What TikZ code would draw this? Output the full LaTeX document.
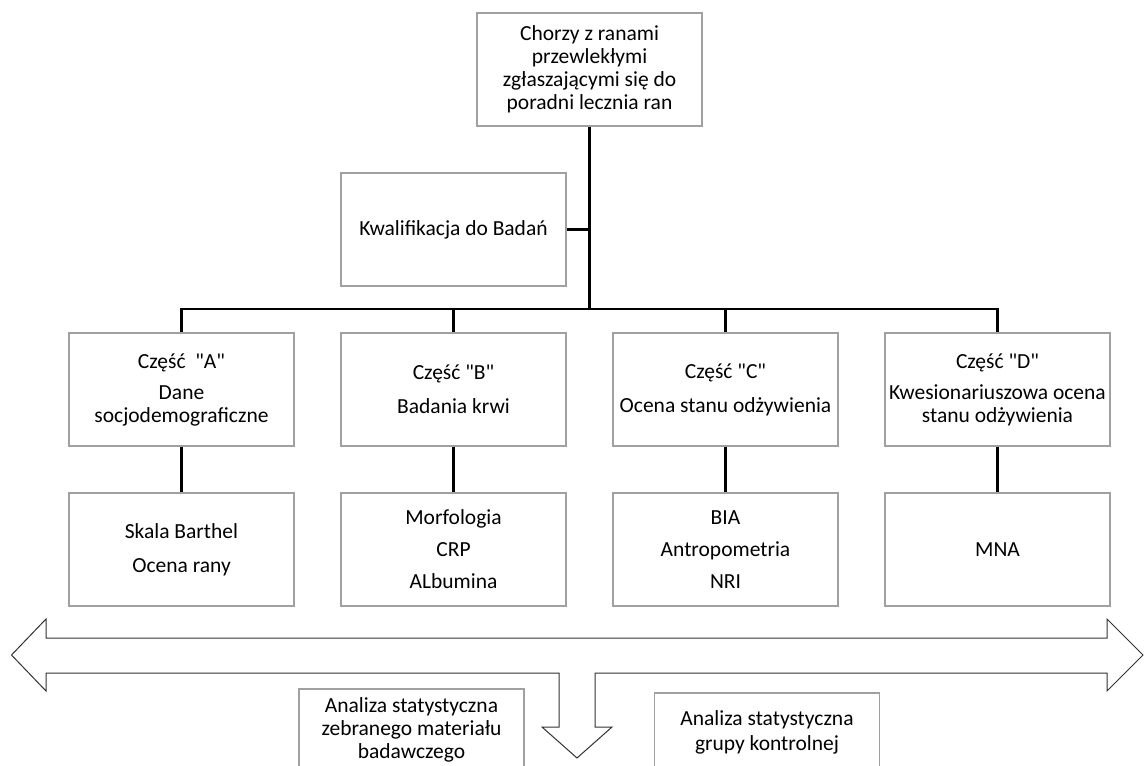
\documentclass[tikz,border=0pt]{standalone}
\usepackage{fontspec}
\setmainfont{Carlito}[Ligatures=TeXOff]
\definecolor{boxgray}{RGB}{160,160,160}
\definecolor{arrowgray}{RGB}{50,50,50}
\begin{document}
\begin{tikzpicture}[x=1pt,y=-1pt,
  box/.style={draw=boxgray, line width=1.2pt, minimum width=225pt, minimum height=113pt,
    inner sep=0pt, align=center, font=\fontsize{21.5}{23}\selectfont, text=black},
  conn/.style={line width=2.6pt, draw=black, line join=miter},
  bigarrow/.style={draw=arrowgray, line width=1pt, fill=white, line join=miter}]
\useasboundingbox (0,0) rectangle (1147,765);

% three-way arrow
\draw[bigarrow] (11.5,655) -- (46,619) -- (46,638) -- (1107,638) -- (1107,619)
  -- (1143,655) -- (1107,691) -- (1107,673) -- (595,673) -- (595,727) -- (612,727)
  -- (577,758) -- (542,727) -- (559,727) -- (559,673) -- (46,673) -- (46,691) -- cycle;

% boxes
\node[box] (top) at (589.5,69.5) {Chorzy z ranami\\przewlekłymi\\zgłaszającymi się do\\poradni lecznia ran};
\node[box] (kw) at (453.5,229.5) {Kwalifikacja do Badań};

\node[box] (a) at (181.5,389.5) {Część\ \ "A"\\[8pt]Dane\\socjodemograficzne};
\node[box] (b) at (453.5,389.5) {Część "B"\\[11pt]Badania krwi};
\node[box] (c) at (725.5,389.5) {Część "C"\\[11pt]Ocena stanu odżywienia};
\node[box] (d) at (997.5,389.5) {Część "D"\\[8pt]Kwesionariuszowa ocena\\stanu odżywienia};

\node[box] (a2) at (181.5,549.5) {Skala Barthel\\[11pt]Ocena rany};
\node[box] (b2) at (453.5,549.5) {Morfologia\\[9pt]CRP\\[9pt]ALbumina};
\node[box] (c2) at (725.5,549.5) {BIA\\[9pt]Antropometria\\[9pt]NRI};
\node[box] (d2) at (997.5,549.5) {MNA};

\node[box, minimum height=82pt] (an1) at (411.5,730) {Analiza statystyczna\\zebranego materiału\\badawczego};
\node[box, minimum height=79pt] (an2) at (767,732.5) {Analiza statystyczna\\[2pt]grupy kontrolnej};

% connectors
\coordinate (bus) at (589.5,309);
\draw[conn] (top.south) -- (bus);
\draw[conn] (kw.east) -- (kw.east -| bus);
\draw[conn] (a.north) |- (bus) -| (d.north);
\draw[conn] (b.north) -- (b.north |- bus);
\draw[conn] (c.north) -- (c.north |- bus);
\draw[conn] (a.south) -- (a2.north);
\draw[conn] (b.south) -- (b2.north);
\draw[conn] (c.south) -- (c2.north);
\draw[conn] (d.south) -- (d2.north);
\end{tikzpicture}
\end{document}
